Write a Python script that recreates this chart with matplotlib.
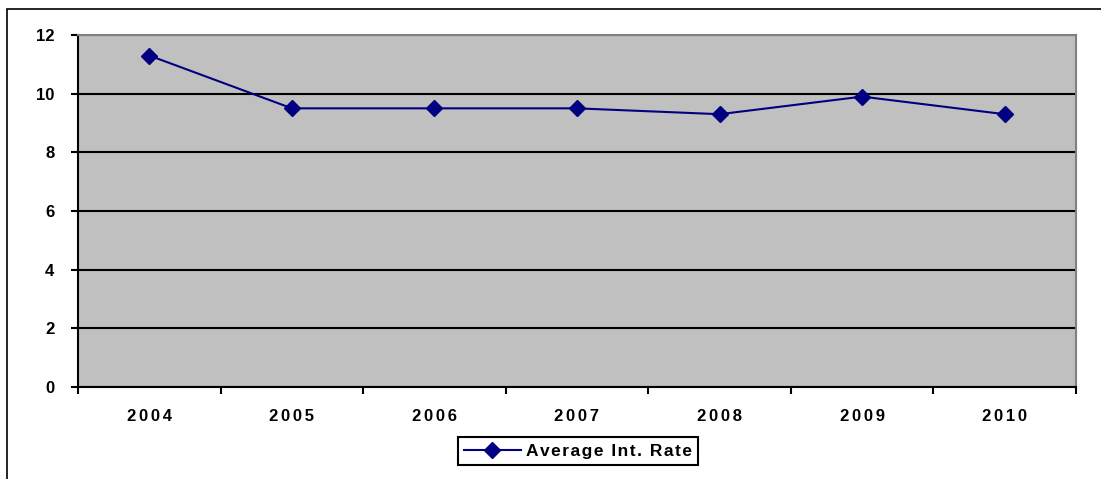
import matplotlib
matplotlib.use("Agg")
import matplotlib.pyplot as plt
import numpy as np
from matplotlib.patches import Rectangle

# data
years = ["2004", "2005", "2006", "2007", "2008", "2009", "2010"]
avg_rate = [11.3, 9.5, 9.5, 9.5, 9.3, 9.9, 9.3]
series_name = "Average Int. Rate"
y_ticks = [0, 2, 4, 6, 8, 10, 12]

plt.rcParams["font.family"] = ["Liberation Sans", "DejaVu Sans"]

def spaced(s, gap="\u200a"):
    # excel-ish letter spacing
    return gap.join(s)

fig = plt.figure(figsize=(11.01, 4.79), dpi=100)
fig.patches.append(Rectangle((7 / 1101, -0.1), 1.2, (479 - 9) / 479 + 0.1,
                             transform=fig.transFigure, fill=False,
                             edgecolor="black", linewidth=1.2))

ax = fig.add_axes([78 / 1101, 92 / 479, 998 / 1101, 352 / 479])
ax.set_facecolor("#C0C0C0")

x = np.arange(len(years))
ax.plot(x, avg_rate, color="#000080", linewidth=1.5, marker="D",
        markersize=8, label=spaced(series_name), zorder=3)

ax.set_xlim(-0.5, len(years) - 0.5)
ax.set_ylim(0, 12)
ax.set_yticks(y_ticks)
ax.set_yticklabels([str(v) for v in y_ticks], fontsize=12, fontweight="bold")
ax.yaxis.grid(True, color="black", linewidth=1.5)
ax.set_axisbelow(True)

# category labels in the middle, ticks between categories
ax.set_xticks(x)
ax.set_xticklabels([spaced(y, "\u200a\u200a") for y in years], fontsize=12, fontweight="bold")
ax.tick_params(axis="x", length=0, pad=16)
ax.set_xticks(np.arange(len(years) + 1) - 0.5, minor=True)
ax.tick_params(axis="x", which="minor", length=5, width=1.5, direction="out")
ax.tick_params(axis="y", length=5, width=1.5, direction="out", pad=12)

for side in ["top", "right"]:
    ax.spines[side].set_color("#808080")
    ax.spines[side].set_linewidth(1.5)
for side in ["left", "bottom"]:
    ax.spines[side].set_color("black")
    ax.spines[side].set_linewidth(1.5)

leg = fig.legend(loc="center", bbox_to_anchor=(578 / 1101, 28 / 479),
                 frameon=True, fancybox=False, edgecolor="black", framealpha=1,
                 prop={"size": 12.5, "weight": "bold"}, handlelength=3.3,
                 borderpad=0.35, handletextpad=0.3)
leg.get_frame().set_linewidth(1.5)

fig.savefig("out.png", dpi=100)
